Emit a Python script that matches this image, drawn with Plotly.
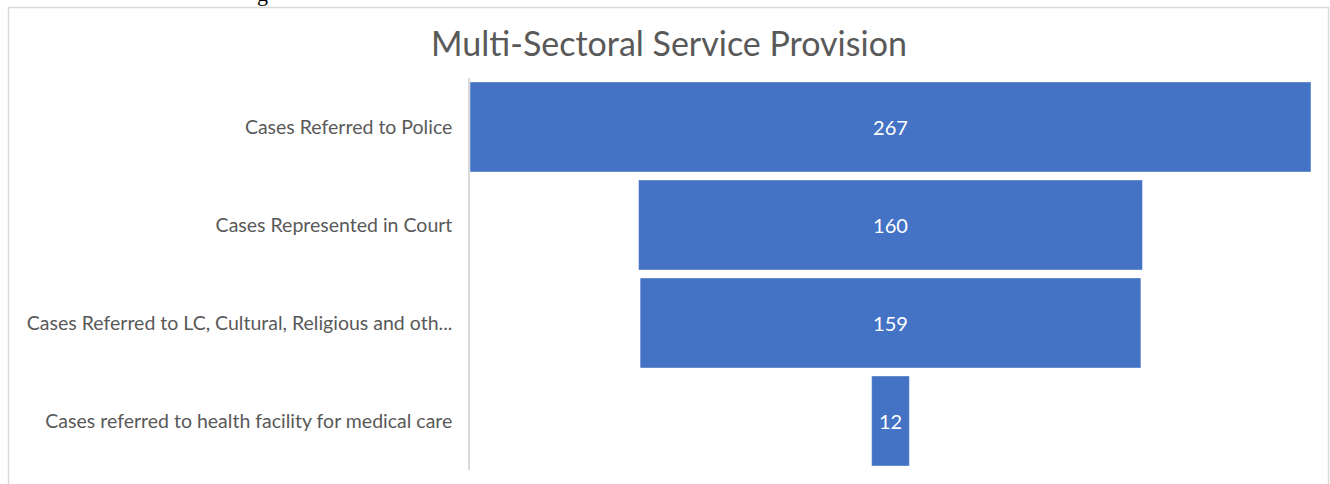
import plotly.graph_objects as go

categories = [
    "Cases Referred to Police",
    "Cases Represented in Court",
    "Cases Referred to LC, Cultural, Religious and oth...",
    "Cases referred to health facility for medical care",
]
values = [267, 160, 159, 12]
title_text = "Multi-Sectoral Service Provision"

FONT = "Lato, Open Sans, sans-serif"
GRAY = "#595959"

fig = go.Figure(
    go.Funnel(
        y=categories,
        x=values,
        orientation="h",
        marker=dict(color="#4472C4", line=dict(color="rgba(255,255,255,0.45)", width=1)),
        connector=dict(visible=False),
        text=[str(v) for v in values],
        textinfo="text",
        textposition="inside",
        insidetextanchor="middle",
        textfont=dict(color="white", size=20, family=FONT),
        constraintext="none",
        hoverinfo="skip",
    )
)

# plot area geometry in pixels
L, R, T, B = 470, 1311, 78, 470
W, H = 1330, 484
pw, ph = R - L, B - T

def px_x(p):
    return (p - L) / pw

def px_y(p):
    return (B - p) / ph

fig.update_layout(
    width=W,
    height=H,
    margin=dict(l=L, r=W - R, t=T, b=H - B, pad=0),
    paper_bgcolor="white",
    plot_bgcolor="white",
    showlegend=False,
    funnelgap=0.08,
    title=dict(
        text=title_text,
        font=dict(family=FONT, size=34, color=GRAY),
        xref="container",
        x=669 / W,
        xanchor="center",
        yref="container",
        y=1 - 44 / H,
        yanchor="middle",
    ),
    xaxis=dict(
        range=[-max(values) / 2, max(values) / 2],
        visible=False,
        fixedrange=True,
    ),
    yaxis=dict(
        showline=True,
        linecolor="#d9d9d9",
        linewidth=1.5,
        showgrid=False,
        ticks="",
        ticklabelstandoff=12,
        tickfont=dict(family=FONT, size=19.5, color=GRAY),
        fixedrange=True,
    ),
    shapes=[
        dict(
            type="rect",
            xref="paper",
            yref="paper",
            x0=px_x(8.5),
            x1=px_x(1328.5),
            y0=px_y(7.5),
            y1=px_y(495),
            line=dict(color="#d9d9d9", width=1.5),
            fillcolor="rgba(0,0,0,0)",
            layer="below",
        )
    ],
    annotations=[
        dict(
            text="g",
            xref="paper",
            yref="paper",
            x=px_x(262),
            y=px_y(-7),
            xanchor="center",
            yanchor="middle",
            showarrow=False,
            font=dict(family="Liberation Serif", size=22, color="black"),
        )
    ],
)

fig.write_html("out.html")
